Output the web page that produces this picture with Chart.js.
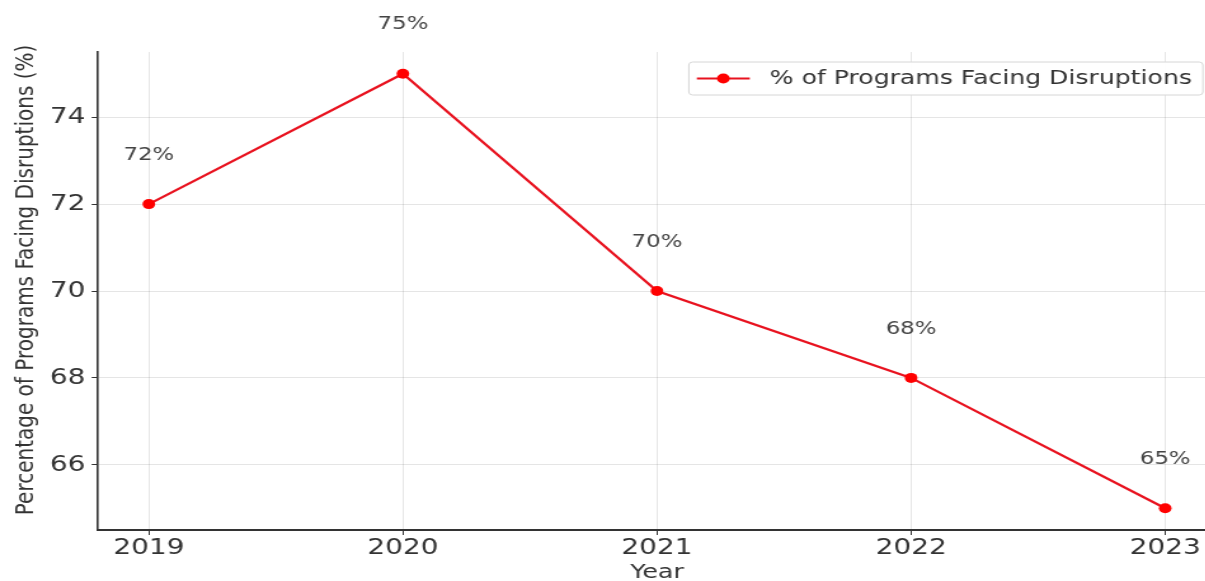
<!DOCTYPE html>
<html>
<head>
<meta charset="utf-8">
<script src="https://cdn.jsdelivr.net/npm/chart.js@4.4.1/dist/chart.umd.min.js"></script>
<style>
  html, body { margin: 0; padding: 0; background: #fff; }
  #wrap { width: 1205px; height: 581px; overflow: hidden; position: relative; }
  /* the reference is stretched sideways, so the canvas is too */
  #chart { transform: scaleX(1.27); transform-origin: 0 0; display: block; }
</style>
</head>
<body>
<div id="wrap"><canvas id="chart" width="968" height="581"></canvas></div>
<script>
// Data
const years = ['2019', '2020', '2021', '2022', '2023'];
const disruptionPct = [72, 75, 70, 68, 65];
const yTicks = [66, 68, 70, 72, 74];
const seriesLabel = '% of Programs Facing Disruptions';
const yTitle = 'Percentage of Programs Facing Disruptions (%)';

const FONT = '"DejaVu Sans", "Liberation Sans", sans-serif';
const SX = 1.27; // horizontal stretch

// Value labels above each point
const pointLabels = {
    id: 'pointLabels',
    afterDatasetsDraw(chart) {
        const { ctx } = chart;
        const meta = chart.getDatasetMeta(0);
        ctx.save();
        ctx.font = '18px ' + FONT;
        ctx.fillStyle = '#444';
        ctx.textAlign = 'center';
        ctx.textBaseline = 'middle';
        meta.data.forEach((pt, i) => {
            ctx.fillText(disruptionPct[i] + '%', pt.x, pt.y - 49);
        });
        ctx.restore();
    }
};

// Y axis title, sits a little below the plot's middle in the reference
const yTitleDraw = {
    id: 'yTitleDraw',
    afterDraw(chart) {
        const { ctx, chartArea } = chart;
        ctx.save();
        ctx.translate(21, (chartArea.top + chartArea.bottom) / 2 - 11);
        ctx.rotate(-Math.PI / 2);
        ctx.font = '20px ' + FONT;
        ctx.fillStyle = '#333';
        ctx.textAlign = 'center';
        ctx.textBaseline = 'middle';
        ctx.fillText(yTitle, 0, 0);
        ctx.restore();
    }
};

// Legend box in the top right corner of the plot
const legendBox = {
    id: 'legendBox',
    afterDraw(chart) {
        const { ctx, chartArea } = chart;
        const ds = chart.data.datasets[0];
        ctx.save();
        ctx.font = '19.8px ' + FONT;
        const textW = ctx.measureText(ds.label).width;
        const h = 33, padL = 6.3, lineW = 41.7, gap = 15.7, padR = 8.7;
        const w = padL + lineW + gap + textW + padR;
        const x = chartArea.right - 10.3 - w;
        const y = chartArea.top + 10;
        ctx.fillStyle = 'rgba(255,255,255,0.9)';
        ctx.strokeStyle = '#d6d6d6';
        ctx.lineWidth = 1;
        ctx.beginPath();
        ctx.roundRect(x, y, w, h, 3);
        ctx.fill();
        ctx.stroke();
        const cy = y + h / 2;
        ctx.strokeStyle = ds.borderColor;
        ctx.lineWidth = ds.borderWidth;
        ctx.beginPath();
        ctx.moveTo(x + padL, cy);
        ctx.lineTo(x + padL + lineW, cy);
        ctx.stroke();
        ctx.fillStyle = ds.pointBackgroundColor;
        ctx.beginPath();
        ctx.arc(x + padL + lineW / 2, cy, ds.pointRadius, 0, Math.PI * 2);
        ctx.fill();
        ctx.fillStyle = '#333';
        ctx.textAlign = 'left';
        ctx.textBaseline = 'middle';
        ctx.fillText(ds.label, x + padL + lineW + gap, cy);
        ctx.restore();
    }
};

const gridStyle = {
    color: 'rgba(0,0,0,0.1)',
    borderDash: [4, 2],
    tickColor: '#333',
    tickLength: 5,
    tickWidth: 1
};

const ctx = document.getElementById('chart').getContext('2d');
const chart = new Chart(ctx, {
    type: 'line',
    data: {
        datasets: [{
            label: seriesLabel,
            data: disruptionPct.map((v, i) => ({ x: i, y: v })),
            borderColor: '#e8121f',
            backgroundColor: '#ff0000',
            pointBackgroundColor: '#ff0000',
            pointBorderColor: '#ff0000',
            borderWidth: 2.2,
            pointRadius: 5,
            pointBorderWidth: 0,
            tension: 0
        }]
    },
    options: {
        responsive: false,
        animation: false,
        layout: { padding: { left: 0, top: 52, right: 968 - 1216 / SX, bottom: 0 } },
        scales: {
            x: {
                type: 'linear',
                min: -0.2,
                max: 4.2,
                afterBuildTicks: scale => { scale.ticks = years.map((_, i) => ({ value: i })); },
                afterFit: scale => { scale.height = 51; },
                grid: gridStyle,
                border: { color: '#333', width: 2 },
                ticks: {
                    callback: value => years[value],
                    font: { family: FONT, size: 22 },
                    color: '#333',
                    maxRotation: 0,
                    autoSkip: false,
                    padding: 0
                },
                title: {
                    display: true,
                    text: 'Year',
                    font: { family: FONT, size: 20, lineHeight: 0.8 },
                    color: '#333',
                    padding: 0
                }
            },
            y: {
                min: 64.5,
                max: 75.5,
                afterBuildTicks: scale => { scale.ticks = yTicks.map(v => ({ value: v })); },
                afterFit: scale => { scale.width = 98 / SX; },
                grid: gridStyle,
                border: { color: '#333', width: 1.6 },
                ticks: {
                    font: { family: FONT, size: 22 },
                    color: '#333',
                    padding: 5
                }
            }
        },
        plugins: {
            legend: { display: false },
            tooltip: { enabled: false }
        }
    },
    plugins: [pointLabels, yTitleDraw, legendBox]
});
</script>
</body>
</html>
